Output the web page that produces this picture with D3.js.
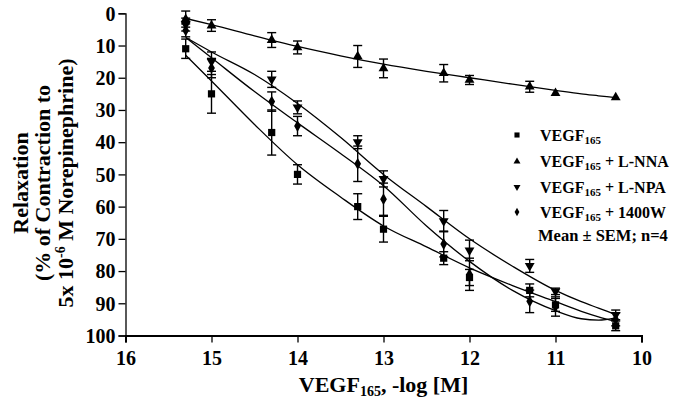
<!DOCTYPE html>
<html>
<head>
<meta charset="utf-8">
<script src="https://cdn.jsdelivr.net/npm/d3@7"></script>
<style>
  html, body { margin: 0; padding: 0; background: #fff; }
  svg { display: block; }
  text { font-family: "Liberation Serif", "Times New Roman", serif; font-weight: bold; fill: #000; }
</style>
</head>
<body>
<svg id="chart" width="684" height="400"></svg>
<script>
// ---- data ----
const logConc   = [15.3, 15, 14.3, 14, 13.3, 13, 12.3, 12, 11.3, 11, 10.3];
const vegf      = [11, 25, 37, 50, 60, 67, 76, 82, 86, 90.5, 97];
const vegfErr   = [3, 6, 7, 3, 4, 4, 2, 2.5, 2, 2, 1.5];
const lnna      = [1.8, 3.8, 8.3, 10.6, 13.4, 17.1, 18.6, 20.7, 22.8, 24.8, 26.1];
const lnnaErr   = [2.5, 1.8, 2.3, 2, 3.4, 2.9, 2.7, 1.4, 1.7, 0.5, 0.5];
const lnpa      = [3.5, 15, 20.5, 29.2, 40, 51.4, 64.5, 73.6, 78.4, 86.3, 93.6];
const lnpaErr   = [2, 3, 2.5, 2, 2, 2.5, 3.3, 3.2, 2, 1, 1.5];
const w1400     = [5.3, 17, 27.4, 35, 46.7, 57.7, 71.6, 81, 89.4, 91, 95];
const w1400Err  = [2, 3, 3, 3, 5.5, 5, 4, 5, 3.5, 3, 2];

// fitted curves
const fitX      = [15.3, 15, 14.5, 14, 13.5, 13, 12.5, 12, 11.5, 11, 10.7, 10.5, 10.3];
const vegfFit   = [13, 21, 34.5, 47, 57, 66, 72.5, 79, 84.5, 89.5, 92.5, 94.2, 95.6];
const lnnaFit   = [1.6, 3.5, 7, 10.3, 13.2, 15.8, 18, 20, 22, 23.9, 25, 25.6, 26.2];
const lnpaFit   = [7.5, 12, 19, 28, 38.5, 50, 60, 70, 78.5, 86, 89.5, 91.5, 93.5];
const w1400Fit  = [7.5, 13.8, 24.3, 34, 43.5, 53.5, 66, 77, 86, 92.3, 94.8, 95.2, 94.5];

const xTicks = [16, 15, 14, 13, 12, 11, 10];
const yTicks = [0, 10, 20, 30, 40, 50, 60, 70, 80, 90, 100];

const legendLabels = ["", " + L-NNA", " + L-NPA", " + 1400W"];

// ---- chart ----
const svg = d3.select("#chart");
const x = d3.scaleLinear().domain([16, 10]).range([125.5, 641.5]);
const y = d3.scaleLinear().domain([0, 100]).range([13.3, 335.5]);

const series = [
  {vals: vegf,  err: vegfErr,  fit: vegfFit,  sym: d3.symbolSquare,   size: 52, rot: 0},
  {vals: lnna,  err: lnnaErr,  fit: lnnaFit,  sym: d3.symbolTriangle, size: 42, rot: 0},
  {vals: lnpa,  err: lnpaErr,  fit: lnpaFit,  sym: d3.symbolTriangle, size: 42, rot: 180},
  {vals: w1400, err: w1400Err, fit: w1400Fit, sym: d3.symbolDiamond,  size: 40, rot: 0}
];

// axes
const yAxis = svg.append("g").attr("transform", "translate(125.5,0)")
  .call(d3.axisLeft(y).tickValues(yTicks).tickSize(7).tickPadding(3).tickFormat(d3.format("d")));
yAxis.select(".domain").attr("stroke", "#000").attr("stroke-width", 1.3);
yAxis.selectAll(".tick line").attr("stroke", "#000").attr("stroke-width", 1.3);
yAxis.selectAll("text").style("font-size", "20px").attr("dy", "0.34em");

const xAxis = svg.append("g").attr("transform", "translate(0,335.5)")
  .call(d3.axisBottom(x).tickValues(xTicks).tickSize(7).tickPadding(8).tickFormat(d3.format("d")));
xAxis.select(".domain").attr("stroke", "#000").attr("stroke-width", 2);
xAxis.selectAll(".tick line").attr("stroke", "#000").attr("stroke-width", 1.3);
xAxis.selectAll("text").style("font-size", "20px");

// curves
const line = d3.line().x((d, i) => x(fitX[i])).y(d => y(d)).curve(d3.curveMonotoneX);
series.forEach(s => {
  svg.append("path").attr("d", line(s.fit)).attr("fill", "none")
    .attr("stroke", "#000").attr("stroke-width", 1.3);
});

// error bars + markers
series.forEach(s => {
  const g = svg.append("g");
  s.vals.forEach((v, i) => {
    const cx = x(logConc[i]);
    const e = s.err[i];
    if (e > 0.8) {
      g.append("line").attr("x1", cx).attr("x2", cx).attr("y1", y(v - e)).attr("y2", y(v + e))
        .attr("stroke", "#000").attr("stroke-width", 1.4);
      [v - e, v + e].forEach(t => {
        g.append("line").attr("x1", cx - 4.5).attr("x2", cx + 4.5).attr("y1", y(t)).attr("y2", y(t))
          .attr("stroke", "#000").attr("stroke-width", 1.4);
      });
    }
    g.append("path").attr("d", d3.symbol().type(s.sym).size(s.size)())
      .attr("transform", `translate(${cx},${y(v)}) rotate(${s.rot})`).attr("fill", "#000");
  });
});

// legend
const rowY = [135, 161.5, 187, 212];
const baseY = [141, 167, 192.5, 218];
series.forEach((s, i) => {
  svg.append("path").attr("d", d3.symbol().type(s.sym).size(s.size * 0.5)())
    .attr("transform", `translate(517,${rowY[i]}) rotate(${s.rot})`).attr("fill", "#000");
  const t = svg.append("text").attr("x", 540).attr("y", baseY[i]).style("font-size", "16px");
  t.append("tspan").text("VEGF");
  t.append("tspan").attr("dy", 3).style("font-size", "11px").text("165");
  t.append("tspan").attr("dy", -3).text(legendLabels[i]);
});
svg.append("text").attr("x", 538).attr("y", 241).style("font-size", "16.5px").text("Mean \u00B1 SEM; n=4");

// x title
const xt = svg.append("text").attr("x", 383.5).attr("y", 391.5).attr("text-anchor", "middle").style("font-size", "22px");
xt.append("tspan").text("VEGF");
xt.append("tspan").attr("dy", 4).style("font-size", "14px").text("165");
xt.append("tspan").attr("dy", -4).text(", -log [M]");

// y title
const yTitle = [
  {x: 28, parts: [["Relaxation", null]]},
  {x: 50, parts: [["(% of Contraction to", null]]},
  {x: 72.5, parts: [["5x 10", null], ["-6", "sup"], [" M Norepinephrine)", "back"]]}
];
yTitle.forEach(l => {
  const t = svg.append("text").attr("transform", `translate(${l.x},183) rotate(-90)`)
    .attr("text-anchor", "middle").style("font-size", "22px");
  l.parts.forEach(([txt, kind]) => {
    const ts = t.append("tspan").text(txt);
    if (kind === "sup") ts.attr("dy", -8).style("font-size", "14px");
    if (kind === "back") ts.attr("dy", 8);
  });
});
</script>
</body>
</html>
